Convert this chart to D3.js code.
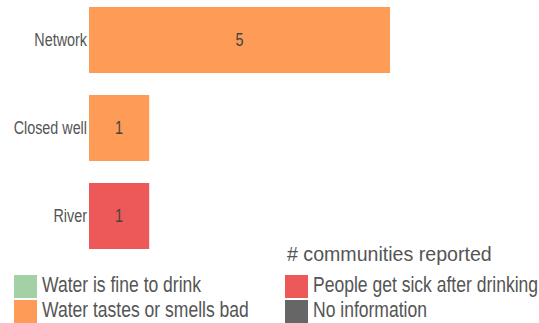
<!DOCTYPE html>
<html><head><meta charset="utf-8">
<script src="https://cdn.jsdelivr.net/npm/d3@7"></script>
<style>
html,body{margin:0;padding:0;background:#fff;}
svg text{font-family:"Liberation Sans",Arial,sans-serif;}
</style></head>
<body><svg id="c" width="539" height="323"></svg>
<script>
const categories = ["Network", "Closed well", "River"];
const seriesNames = ["Water is fine to drink", "Water tastes or smells bad", "People get sick after drinking", "No information"];
const fineValues = [0, 0, 0];
const badValues = [5, 1, 0];
const sickValues = [0, 0, 1];
const noInfoValues = [0, 0, 0];
const seriesColors = ["#a3d0a4", "#fe9b57", "#ed5959", "#666666"];
const legendTitle = "# communities reported";

const NARROW = 0.82;
function narrowText(parent, x, y, str, size, anchor, fill) {
  const gg = parent.append("g").attr("transform", `translate(${x},${y}) scale(${NARROW},1)`);
  return gg.append("text").attr("x", 0).attr("y", 0).attr("font-size", size)
    .attr("text-anchor", anchor).attr("fill", fill).text(str);
}

const svg = d3.select("#c");
const keys = ["fine", "bad", "sick", "noinfo"];
const rows = categories.map((c, i) => ({cat: c, fine: fineValues[i], bad: badValues[i], sick: sickValues[i], noinfo: noInfoValues[i]}));
const stacked = d3.stack().keys(keys)(rows);

const x = d3.scaleLinear().domain([0, 5]).range([89, 390]);
const y = d3.scaleBand().domain(categories).range([7, 249]).paddingInner(0.25).paddingOuter(0);
const color = d3.scaleOrdinal().domain(keys).range(seriesColors);

const g = svg.append("g");
stacked.forEach(s => {
  s.forEach(d => {
    const w = x(d[1]) - x(d[0]);
    if (w <= 0) return;
    g.append("rect")
      .attr("x", x(d[0])).attr("y", y(d.data.cat))
      .attr("width", w).attr("height", y.bandwidth())
      .attr("fill", color(s.key));
    narrowText(g, (x(d[0]) + x(d[1])) / 2, y(d.data.cat) + y.bandwidth() / 2 + 6, d[1] - d[0], 17.5, "middle", "#444");
  });
});

// category axis (left), ticks drawn as narrow text
const ag = svg.append("g");
categories.forEach(c => {
  narrowText(ag, 87, y(c) + y.bandwidth() / 2 + 6, c, 17.5, "end", "#555");
});

svg.append("text").attr("x", 287).attr("y", 261).attr("font-size", 19.6).attr("fill", "#555").text(legendTitle);

const legendPos = [[14, 275], [14, 300], [285, 275], [285, 300]];
keys.forEach((k, i) => {
  const [lx, ly] = legendPos[i];
  svg.append("rect").attr("x", lx).attr("y", ly).attr("width", 23).attr("height", 23).attr("fill", color(k));
  narrowText(svg, lx + 28, ly + 16.5, seriesNames[i], 21.4, "start", "#555");
});
</script></body></html>
